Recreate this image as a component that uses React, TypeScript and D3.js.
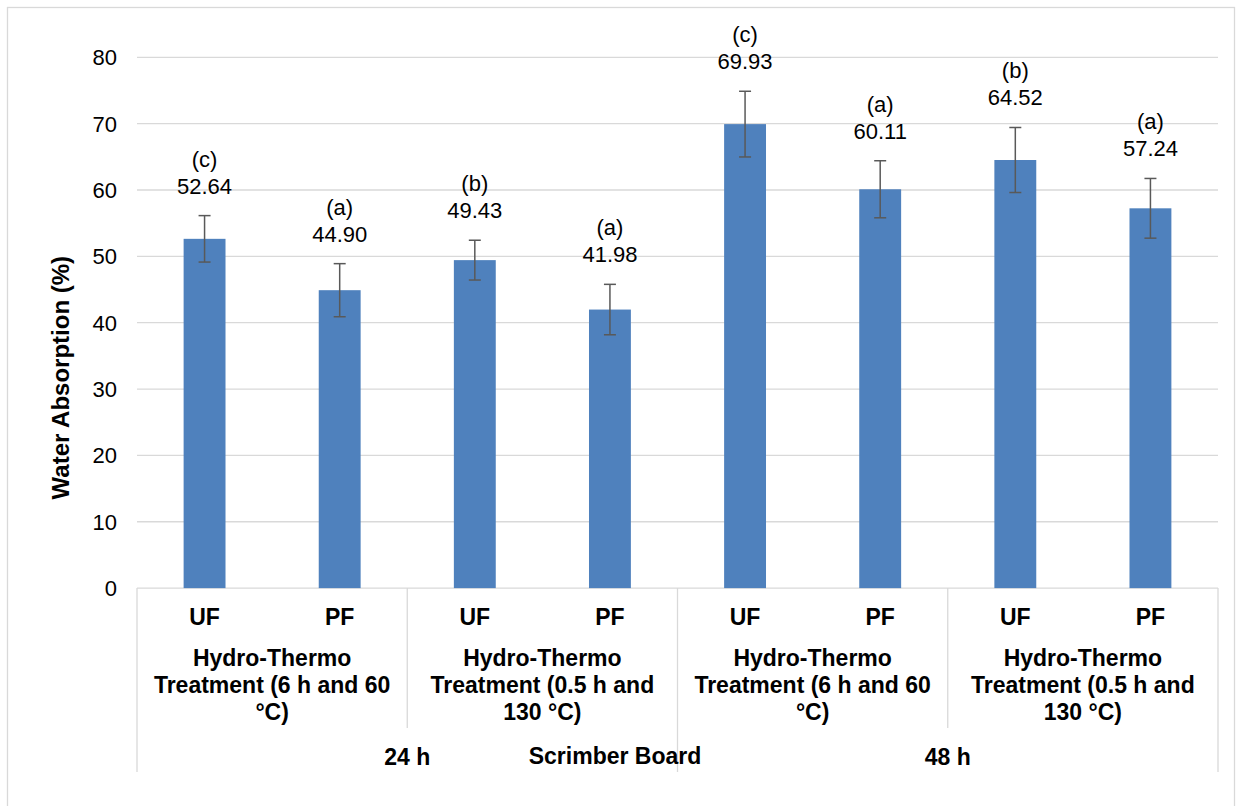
import React from "react";
import * as d3 from "d3";

const resins = ["UF", "PF", "UF", "PF", "UF", "PF", "UF", "PF"];
const treatmentLines = [
  ["Hydro-Thermo", "Treatment (6 h and 60", "°C)"],
  ["Hydro-Thermo", "Treatment (0.5 h and", "130 °C)"],
  ["Hydro-Thermo", "Treatment (6 h and 60", "°C)"],
  ["Hydro-Thermo", "Treatment (0.5 h and", "130 °C)"],
];
const durations = ["24 h", "48 h"];
const values = [52.64, 44.9, 49.43, 41.98, 69.93, 60.11, 64.52, 57.24];
const errors = [3.5, 4.0, 3.0, 3.8, 4.95, 4.3, 4.9, 4.5];
const letters = ["(c)", "(a)", "(b)", "(a)", "(c)", "(a)", "(b)", "(a)"];
const yTicks = [0, 10, 20, 30, 40, 50, 60, 70, 80];
const yTitle = "Water Absorption (%)";
const xTitle = "Scrimber Board";

const FONT = "'Liberation Sans', Arial, sans-serif";
const W = 1242;
const H = 806;
const left = 137;
const right = 1218;
const top = 57.3;
const bottom = 588.1;

export default function App() {
  const idx = values.map((_, i) => i);
  const x = d3.scaleBand<number>().domain(idx).range([left, right]).padding(0);
  const xt = d3.scaleBand<number>().domain([0, 1, 2, 3]).range([left, right]);
  const xg = d3.scaleBand<string>().domain(durations).range([left, right]);
  const y = d3.scaleLinear().domain([0, 80]).range([bottom, top]);
  const bw = x.bandwidth() * 0.31;
  const cap = 6;
  const fs = 22;
  const fb = 23;

  return (
    <svg
      width={W}
      height={H}
      style={{ position: "absolute", left: 0, top: 0, background: "#fff" }}
      fontFamily={FONT}
    >
      <rect x={7.5} y={7.5} width={1227} height={830} fill="#fff" stroke="#D9D9D9" strokeWidth={1.3} />
      {yTicks.map((t) => (
        <g key={t}>
          <line x1={left} x2={right} y1={y(t)} y2={y(t)} stroke="#D9D9D9" strokeWidth={1.3} />
          <text x={117} y={y(t)} dy="0.36em" textAnchor="end" fontSize={fs} fill="#000">
            {t}
          </text>
        </g>
      ))}
      {[0, 1, 2, 3, 4].map((k) => {
        const xx = k < 4 ? xt(k)! : right;
        const outer = k % 2 === 0;
        return (
          <line
            key={k}
            x1={xx}
            x2={xx}
            y1={bottom}
            y2={outer ? 772 : 728}
            stroke="#D9D9D9"
            strokeWidth={1.3}
          />
        );
      })}
      {values.map((v, i) => (
        <rect
          key={i}
          x={x(i)! + x.bandwidth() / 2 - bw / 2}
          y={y(v)}
          width={bw}
          height={y(0) - y(v)}
          fill="#4F81BD"
        />
      ))}
      {values.map((v, i) => {
        const cx = x(i)! + x.bandwidth() / 2;
        const y1 = y(v + errors[i]);
        const y2 = y(v - errors[i]);
        return (
          <g key={i} stroke="#595959" strokeWidth={1.5}>
            <line x1={cx} x2={cx} y1={y1} y2={y2} />
            <line x1={cx - cap} x2={cx + cap} y1={y1} y2={y1} />
            <line x1={cx - cap} x2={cx + cap} y1={y2} y2={y2} />
          </g>
        );
      })}
      {values.map((v, i) => {
        const cx = x(i)! + x.bandwidth() / 2;
        const cy = y(v + errors[i]) - 30;
        return (
          <g key={i} fontSize={fs} textAnchor="middle" fill="#000">
            <text x={cx} y={cy - 27} dy="0.36em">
              {letters[i]}
            </text>
            <text x={cx} y={cy} dy="0.36em">
              {v.toFixed(2)}
            </text>
          </g>
        );
      })}
      {resins.map((r, i) => (
        <text
          key={i}
          x={x(i)! + x.bandwidth() / 2}
          y={625}
          textAnchor="middle"
          fontSize={fb}
          fontWeight="bold"
        >
          {r}
        </text>
      ))}
      {treatmentLines.map((lines, k) => (
        <text
          key={k}
          x={xt(k)! + xt.bandwidth() / 2}
          y={666}
          textAnchor="middle"
          fontSize={fb}
          fontWeight="bold"
        >
          {lines.map((l, j) => (
            <tspan key={j} x={xt(k)! + xt.bandwidth() / 2} dy={j === 0 ? 0 : 27}>
              {l}
            </tspan>
          ))}
        </text>
      ))}
      {durations.map((d) => (
        <text
          key={d}
          x={xg(d)! + xg.bandwidth() / 2}
          y={765}
          textAnchor="middle"
          fontSize={fb}
          fontWeight="bold"
        >
          {d}
        </text>
      ))}
      <text x={615} y={764} textAnchor="middle" fontSize={fb} fontWeight="bold">
        {xTitle}
      </text>
      <text
        transform={`translate(60,${(top + bottom) / 2 + 55}) rotate(-90)`}
        textAnchor="middle"
        dy="0.36em"
        fontSize={24}
        fontWeight="bold"
      >
        {yTitle}
      </text>
    </svg>
  );
}
